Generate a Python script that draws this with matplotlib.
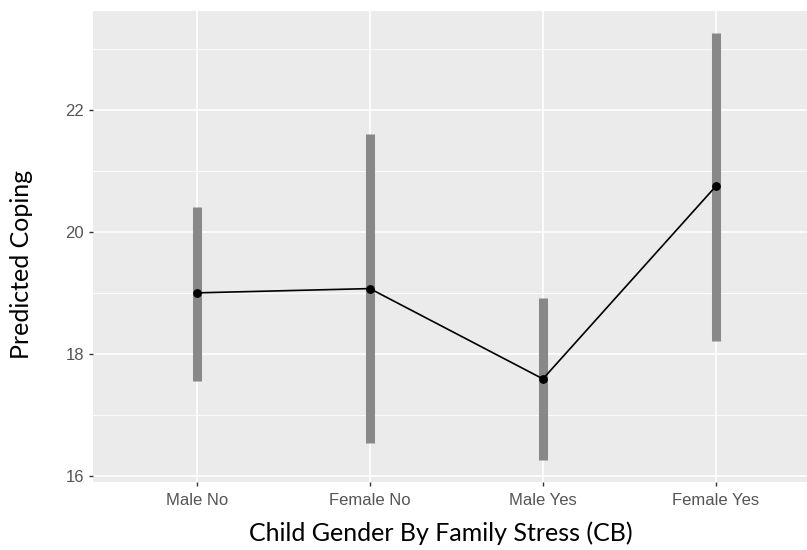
import matplotlib
matplotlib.use("Agg")
import matplotlib.pyplot as plt
import numpy as np

categories = ["Male No", "Female No", "Male Yes", "Female Yes"]
predicted = [19.0, 19.07, 17.59, 20.75]
lower = [17.56, 16.54, 16.26, 18.21]
upper = [20.41, 21.61, 18.92, 23.26]

W, H = 807, 550
fig = plt.figure(figsize=(W / 100, H / 100), dpi=100)
ax = fig.add_axes([93 / W, 1 - 482 / H, (807 - 93) / W, (482 - 11) / H])
ax.set_facecolor("#EBEBEB")
for s in ax.spines.values():
    s.set_visible(False)

x = np.arange(1, len(categories) + 1)
ax.set_xlim(0.4, 4.526)
ax.set_ylim(15.9, 23.62)

ax.set_yticks([16, 18, 20, 22])
ax.set_yticks([17, 19, 21, 23], minor=True)
ax.set_xticks(x)
ax.set_xticklabels(categories)
ax.grid(True, which="major", color="white", linewidth=1.2)
ax.grid(True, which="minor", axis="y", color="white", linewidth=0.6)
ax.set_axisbelow(True)
ax.tick_params(which="major", length=3, width=1, color="#333333",
               labelcolor="#555555", labelsize=12)
ax.tick_params(axis="x", pad=5)
ax.tick_params(which="minor", length=0)

ax.vlines(x, lower, upper, color="#888888", linewidth=6.5, zorder=2)
ax.plot(x, predicted, color="black", linewidth=1.2, zorder=3)
ax.scatter(x, predicted, color="black", s=28, zorder=4)

for lab in ax.get_xticklabels() + ax.get_yticklabels():
    lab.set_family("Liberation Sans")

fig.text(441 / W, 1 - 541 / H, "Child Gender By Family Stress (CB)",
         fontsize=18, family="Lato", ha="center", va="baseline")
fig.text(22 / W, 1 - 264 / H, "Predicted Coping", fontsize=18,
         family="Lato", ha="center", va="center", rotation=90)

fig.savefig("out.png", dpi=100)
